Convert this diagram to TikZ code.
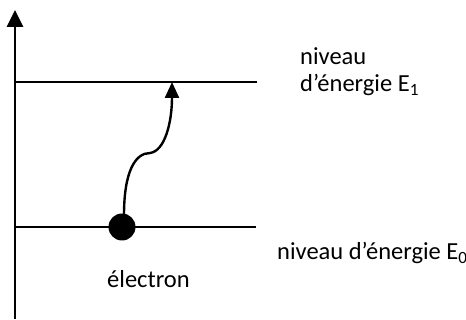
\documentclass[tikz,border=0pt]{standalone}
\usepackage{fontspec}
\setmainfont{Carlito}
\usetikzlibrary{arrows.meta}
\begin{document}
\begin{tikzpicture}[x=1pt,y=-1pt,
  axisline/.style={line width=2.8pt,-{Triangle[width=16pt,length=17pt]}},
  level/.style={line width=1.6pt},
  jump/.style={line width=2.4pt,-{Triangle[width=14pt,length=16pt]}},
  lbl/.style={font=\fontsize{24.5}{27}\selectfont,inner sep=0pt,anchor=base west,align=left}]
\useasboundingbox (0,0) rectangle (466,320);
\coordinate (a0) at (15,319);
\coordinate (a1) at (15,10);
\draw[axisline] (a0) -- (a1);
\coordinate (u0) at (15,82);
\coordinate (u1) at (257,82);
\coordinate (l0) at (15,227);
\coordinate (l1) at (256,227);
\draw[level] (u0) -- (u1);
\draw[level] (l0) -- (l1);
\node[circle,fill=black,minimum size=27pt,inner sep=0pt] (e) at (122,227) {};
\coordinate (tip) at (172,82);
\draw[jump] (124,215) .. controls (124,172) and (135,153) .. (150,153) .. controls (165,151) and (172,122) .. (tip);
\node[lbl] (t1) at (300,92) {niveau\\d’énergie E\textsubscript{1}};
\node[lbl] (t0) at (277,260) {niveau d’énergie E\textsubscript{0}};
\node[lbl] (te) at (107,288) {électron};
\end{tikzpicture}
\end{document}
